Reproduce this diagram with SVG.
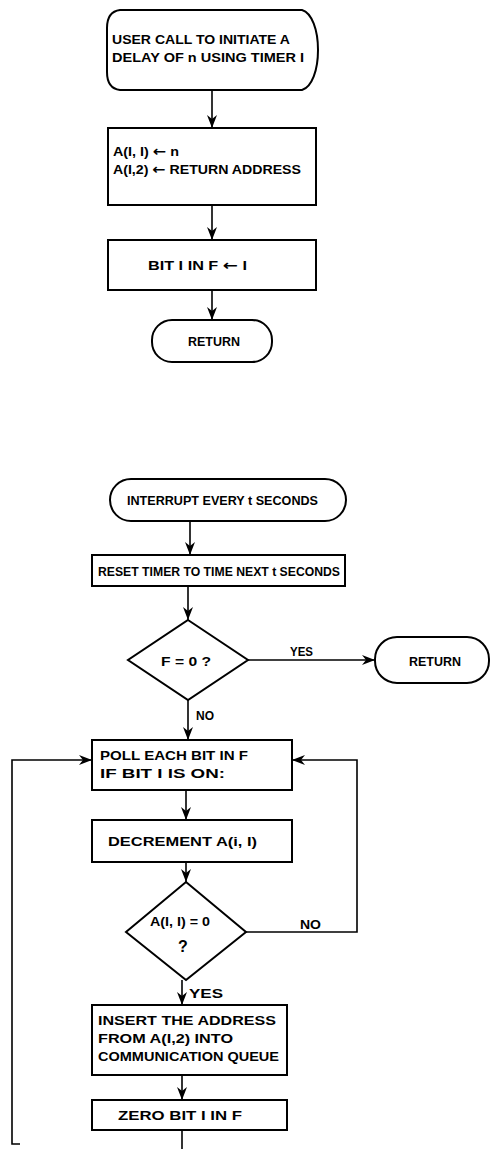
<svg xmlns="http://www.w3.org/2000/svg" width="496" height="1149" viewBox="0 0 496 1149">
<defs>
<marker id="ah" markerUnits="userSpaceOnUse" markerWidth="14" markerHeight="10" refX="13" refY="5" orient="auto">
<path d="M0,0 L13,5 L0,10 L4,5 Z" fill="#000"/>
</marker>
</defs>
<style>
.s{fill:#fff;stroke:#000;stroke-width:2}
.c{fill:none;stroke:#000;stroke-width:1.6}
.a{marker-end:url(#ah)}
text{font-family:"Liberation Sans",Arial,sans-serif;font-weight:bold;font-size:12.5px;fill:#000}
.m{text-anchor:middle}
.ar{font-family:"DejaVu Sans",sans-serif;font-size:14px}
</style>
<rect width="496" height="1149" fill="#fff"/>
<g id="connectors">
<line class="c a" x1="212" y1="90" x2="212" y2="128"/>
<line class="c a" x1="212" y1="205" x2="212" y2="240"/>
<line class="c a" x1="212" y1="290" x2="212" y2="320"/>
<line class="c a" x1="190" y1="521" x2="190" y2="555"/>
<line class="c a" x1="188" y1="586" x2="188" y2="620"/>
<line class="c a" x1="248" y1="660" x2="375" y2="660"/>
<text x="290" y="656" textLength="23" lengthAdjust="spacingAndGlyphs">YES</text>
<line class="c a" x1="188" y1="700" x2="188" y2="740"/>
<text x="196" y="720" textLength="18" lengthAdjust="spacingAndGlyphs">NO</text>
<line class="c a" x1="186" y1="790" x2="186" y2="820"/>
<line class="c a" x1="186" y1="862" x2="186" y2="882"/>
<polyline class="c a" points="246,932 357,932 357,760 292,760"/>
<text x="300" y="929" textLength="21" lengthAdjust="spacingAndGlyphs">NO</text>
<line class="c a" x1="182" y1="980" x2="182" y2="1005"/>
<text x="189" y="998" textLength="34" lengthAdjust="spacingAndGlyphs">YES</text>
<line class="c a" x1="182" y1="1075" x2="182" y2="1100"/>
<line class="c" x1="182" y1="1130" x2="182" y2="1149"/>
<polyline class="c a" points="20,1144 12,1144 12,760 92,760"/>
</g>
<g id="n1">
<path class="s" d="M120,10 H302 C312,13 318,30 318,50 C318,70 312,87 302,90 H120 C112,89 107,84 107,72 V28 C107,16 112,11 120,10 Z"/>
<text x="112" y="44" textLength="178" lengthAdjust="spacingAndGlyphs">USER CALL TO INITIATE A</text>
<text x="112" y="62" textLength="192" lengthAdjust="spacingAndGlyphs">DELAY OF n USING TIMER I</text>
</g>
<g id="n2">
<rect class="s" x="108" y="128" width="208" height="77"/>
<text x="113" y="156" textLength="66" lengthAdjust="spacingAndGlyphs">A(I, I) <tspan class="ar">←</tspan> n</text>
<text x="113" y="174" textLength="188" lengthAdjust="spacingAndGlyphs">A(I,2) <tspan class="ar">←</tspan> RETURN ADDRESS</text>
</g>
<g id="n3">
<rect class="s" x="108" y="240" width="208" height="50"/>
<text x="148" y="270" textLength="99" lengthAdjust="spacingAndGlyphs">BIT I IN F <tspan class="ar">←</tspan> I</text>
</g>
<g id="n4">
<rect class="s" x="152" y="320" width="120" height="42" rx="20"/>
<text x="188" y="346" textLength="52" lengthAdjust="spacingAndGlyphs">RETURN</text>
</g>
<g id="n5">
<rect class="s" x="110" y="479" width="236" height="42" rx="21"/>
<text x="127" y="505" textLength="191" lengthAdjust="spacingAndGlyphs">INTERRUPT EVERY t SECONDS</text>
</g>
<g id="n6">
<rect class="s" x="92" y="555" width="253" height="31"/>
<text x="98" y="576" textLength="242" lengthAdjust="spacingAndGlyphs">RESET TIMER TO TIME NEXT t SECONDS</text>
</g>
<g id="n7">
<polygon class="s" points="188,620 248,660 188,700 128,660"/>
<text x="161" y="666" textLength="50" lengthAdjust="spacingAndGlyphs">F = 0 ?</text>
</g>
<g id="n8">
<rect class="s" x="375" y="637" width="114" height="46" rx="22"/>
<text x="409" y="666" textLength="52" lengthAdjust="spacingAndGlyphs">RETURN</text>
</g>
<g id="n9">
<rect class="s" x="92" y="740" width="200" height="50"/>
<text x="100" y="760" textLength="148" lengthAdjust="spacingAndGlyphs">POLL EACH BIT IN F</text>
<text x="100" y="778" textLength="125" lengthAdjust="spacingAndGlyphs">IF BIT I IS ON:</text>
</g>
<g id="n10">
<rect class="s" x="92" y="820" width="200" height="42"/>
<text x="108" y="846" textLength="149" lengthAdjust="spacingAndGlyphs">DECREMENT A(i, I)</text>
</g>
<g id="n11">
<polygon class="s" points="186,882 246,932 186,980 126,932"/>
<text x="150" y="926" textLength="60" lengthAdjust="spacingAndGlyphs">A(I, I) = 0</text>
<text x="183" y="952" class="m" style="font-size:16px">?</text>
</g>
<g id="n12">
<rect class="s" x="92" y="1005" width="195" height="70"/>
<text x="98" y="1025" textLength="178" lengthAdjust="spacingAndGlyphs">INSERT THE ADDRESS</text>
<text x="98" y="1043" textLength="135" lengthAdjust="spacingAndGlyphs">FROM A(I,2) INTO</text>
<text x="98" y="1061" textLength="181" lengthAdjust="spacingAndGlyphs">COMMUNICATION QUEUE</text>
</g>
<g id="n13">
<rect class="s" x="92" y="1100" width="195" height="30"/>
<text x="118" y="1120" textLength="124" lengthAdjust="spacingAndGlyphs">ZERO BIT I IN F</text>
</g>
</svg>
